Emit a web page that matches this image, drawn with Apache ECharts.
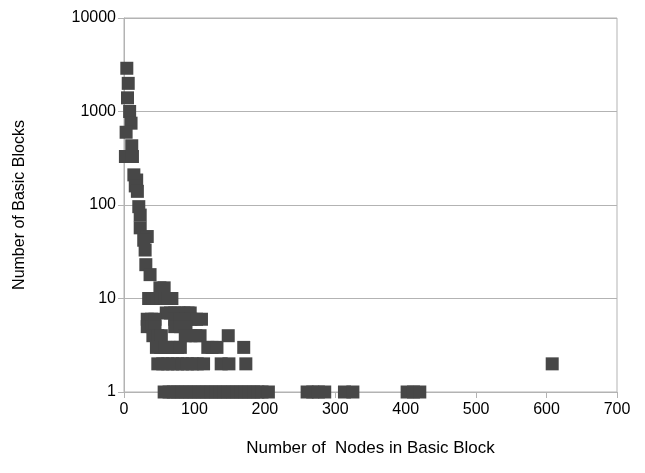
<!DOCTYPE html>
<html>
<head>
<meta charset="utf-8">
<script src="https://cdn.jsdelivr.net/npm/echarts@6/dist/echarts.min.js"></script>
<style>
html,body{margin:0;padding:0;background:#fff;}
#chart{width:645px;height:473px;}
</style>
</head>
<body>
<div id="chart"></div>
<script>
// Number of nodes in basic block (x) vs number of basic blocks (y)
const nodes = [
  4, 6, 5, 8, 10, 3, 11, 2, 12, 14, 18, 16, 19, 21, 23, 23, 33, 28, 30, 31, 37,
  51, 57,
  35, 41, 47, 53, 58, 63, 68,
  60, 66, 72, 78, 85, 91, 94,
  33, 39, 44, 72, 80, 88, 95, 103, 110,
  33, 40, 44, 72, 80, 88,
  41, 48, 53, 87, 95, 102, 108, 148,
  46, 52, 58, 64, 70, 76, 80, 119, 125, 132, 170,
  48, 55, 62, 69, 76, 83, 90, 97, 104, 113, 138, 149, 173,
  57, 64, 70, 76, 82, 88, 94, 100, 106, 112, 118, 124, 130, 136, 142, 148, 154,
  160, 166, 172, 178, 184, 190, 196, 205, 260, 268, 276, 285, 313, 325, 402, 411, 420,
  608
];
const blocks = [
  2900, 2000, 1400, 1000, 750, 600, 430, 330, 330, 210, 185, 160, 140, 96, 78, 57, 46, 42, 33, 23, 18,
  13, 13,
  10, 10, 10, 10, 10, 10, 10,
  7, 7, 7, 7, 7, 7, 7,
  6, 6, 6, 6, 6, 6, 6, 6, 6,
  5, 5, 5, 5, 5, 5,
  4, 4, 4, 4, 4, 4, 4, 4,
  3, 3, 3, 3, 3, 3, 3, 3, 3, 3, 3,
  2, 2, 2, 2, 2, 2, 2, 2, 2, 2, 2, 2, 2,
  1, 1, 1, 1, 1, 1, 1, 1, 1, 1, 1, 1, 1, 1, 1, 1, 1,
  1, 1, 1, 1, 1, 1, 1, 1, 1, 1, 1, 1, 1, 1, 1, 1, 1,
  2
];
const xTitle = 'Number of  Nodes in Basic Block';
const yTitle = 'Number of Basic Blocks';

const points = nodes.map((n, i) => [n, blocks[i]]);
const gridColor = '#b3b3b3';
const font = '"Liberation Sans", Arial, sans-serif';

const chart = echarts.init(document.getElementById('chart'), null, {renderer: 'canvas'});
chart.setOption({
  animation: false,
  backgroundColor: '#ffffff',
  grid: {left: 124, right: 28, top: 18, bottom: 81, show: true, borderColor: gridColor, borderWidth: 1, backgroundColor: 'transparent'},
  xAxis: {
    type: 'value', min: 0, max: 700, interval: 100,
    name: xTitle, nameLocation: 'middle', nameGap: 48,
    nameTextStyle: {fontFamily: font, fontSize: 17, color: '#000'},
    axisLine: {show: true, lineStyle: {color: gridColor, width: 1}},
    axisTick: {show: true, length: 6, lineStyle: {color: gridColor}},
    axisLabel: {fontFamily: font, fontSize: 16, color: '#000', margin: 10},
    splitLine: {show: false}
  },
  yAxis: {
    type: 'log', logBase: 10, min: 1, max: 10000,
    name: yTitle, nameLocation: 'middle', nameGap: 96,
    nameTextStyle: {fontFamily: font, fontSize: 16, color: '#000'},
    axisLine: {show: true, lineStyle: {color: gridColor, width: 1}},
    axisTick: {show: true, length: 6, lineStyle: {color: gridColor}},
    axisLabel: {fontFamily: font, fontSize: 16, color: '#000', margin: 8,
      formatter: v => String(Math.round(v))},
    splitLine: {show: true, lineStyle: {color: gridColor, width: 1}},
    minorTick: {show: false}
  },
  series: [{
    type: 'scatter',
    data: points,
    symbol: 'rect',
    symbolSize: 13,
    itemStyle: {color: '#474747', opacity: 1},
    z: 3
  }]
});
</script>
</body>
</html>
